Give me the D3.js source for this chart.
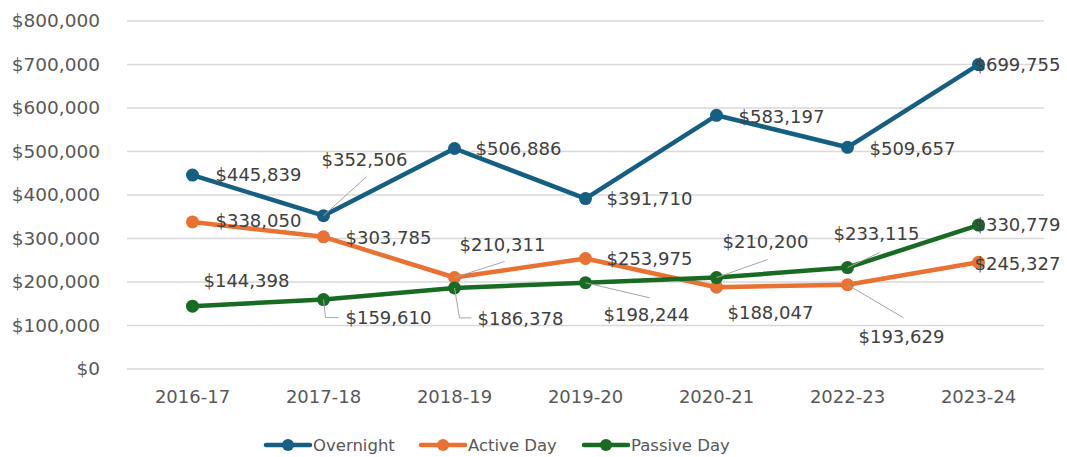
<html>
<head>
<script src="https://d3js.org/d3.v7.min.js"></script>
<style>
  body { margin: 0; background: #fff; }
  text { font-family: "DejaVu Sans", sans-serif; }
</style>
</head>
<body>
<svg id="chart" width="1067" height="457"></svg>
<script>
// data
const years = ["2016-17", "2017-18", "2018-19", "2019-20", "2020-21", "2022-23", "2023-24"];
const overnight = [445839, 352506, 506886, 391710, 583197, 509657, 699755];
const activeDay = [338050, 303785, 210311, 253975, 188047, 193629, 245327];
const passiveDay = [144398, 159610, 186378, 198244, 210200, 233115, 330779];
const yTicks = [0, 100000, 200000, 300000, 400000, 500000, 600000, 700000, 800000];

// label placement relative to each point (dx, dy to text start / middle), optional leader
const overnightLabels = [
  {dx: 23, dy: 0}, {dx: -2, dy: -56, lead: [[43, -39]]}, {dx: 21, dy: 0}, {dx: 21, dy: 0},
  {dx: 22, dy: 1}, {dx: 22, dy: 1}, {dx: -4, dy: 0}
];
const activeLabels = [
  {dx: 23, dy: -1}, {dx: 22, dy: 1}, {dx: 5, dy: -33, lead: [[50, -16]]}, {dx: 21, dy: 0},
  {dx: 11, dy: 26}, {dx: 11, dy: 52, lead: [[56, 33]]}, {dx: -4, dy: 1}
];
const passiveLabels = [
  {dx: 11, dy: -25}, {dx: 22, dy: 18, lead: [[2, 18], [15, 18]]},
  {dx: 23, dy: 31, lead: [[5, 30], [17, 30]]}, {dx: 18, dy: 32, lead: [[64, 15]]},
  {dx: 6, dy: -36, lead: [[51, -18]]}, {dx: -14, dy: -34, lead: [[32, -15]]}, {dx: -4, dy: 0}
];

const series = [
  {name: "Overnight", values: overnight, color: "#156082", labels: overnightLabels},
  {name: "Active Day", values: activeDay, color: "#E97132", labels: activeLabels},
  {name: "Passive Day", values: passiveDay, color: "#196B24", labels: passiveLabels}
];

const svg = d3.select("#chart");
const x = d3.scalePoint().domain(years).range([127, 1044]).padding(0.5);
const y = d3.scaleLinear().domain([0, 800000]).range([369, 21]);
const fmt = d3.format("$,");

// gridlines
svg.append("g").selectAll("line").data(yTicks).enter().append("line")
  .attr("x1", 127).attr("x2", 1044)
  .attr("y1", d => y(d)).attr("y2", d => y(d))
  .attr("stroke", "#d9d9d9").attr("stroke-width", 1.3);

// y axis labels
svg.append("g").selectAll("text").data(yTicks).enter().append("text")
  .attr("x", 100).attr("y", d => y(d))
  .attr("dy", "0.35em")
  .attr("text-anchor", "end")
  .attr("font-size", 18.5)
  .attr("fill", "#595959")
  .text(d => fmt(d));

// x axis labels
svg.append("g").selectAll("text").data(years).enter().append("text")
  .attr("x", d => x(d)).attr("y", 397)
  .attr("dy", "0.35em")
  .attr("text-anchor", "middle")
  .attr("font-size", 18)
  .attr("fill", "#595959")
  .text(d => d);

const line = d3.line().x((d, i) => x(years[i])).y(d => y(d));

// lines and markers
series.forEach(function(s) {
  svg.append("path")
    .datum(s.values)
    .attr("d", line)
    .attr("fill", "none")
    .attr("stroke", s.color)
    .attr("stroke-width", 4.5)
    .attr("stroke-linejoin", "round")
    .attr("stroke-linecap", "round");
  svg.append("g").selectAll("circle").data(s.values).enter().append("circle")
    .attr("cx", (d, i) => x(years[i]))
    .attr("cy", d => y(d))
    .attr("r", 6.5)
    .attr("fill", s.color);
});

// leader lines and data labels
series.forEach(function(s) {
  s.values.forEach(function(v, i) {
    const px = x(years[i]), py = y(v);
    const lab = s.labels[i];
    if (lab.lead) {
      const pts = [[px, py]].concat(lab.lead.map(p => [px + p[0], py + p[1]]));
      svg.append("polyline")
        .attr("points", pts.map(p => p.join(",")).join(" "))
        .attr("fill", "none")
        .attr("stroke", "#a6a6a6")
        .attr("stroke-width", 1);
    }
    svg.append("text")
      .attr("x", px + lab.dx)
      .attr("y", py + lab.dy)
      .attr("dy", "0.35em")
      .attr("font-size", 18)
      .attr("fill", "#404040")
      .text(fmt(v));
  });
});

// legend
const legendX = [266, 421, 584];
const legend = svg.append("g").selectAll("g").data(series).enter().append("g")
  .attr("transform", (d, i) => "translate(" + legendX[i] + ",445)");
legend.append("line")
  .attr("x1", 0).attr("x2", 44).attr("y1", 0).attr("y2", 0)
  .attr("stroke", d => d.color).attr("stroke-width", 4.5)
  .attr("stroke-linecap", "round");
legend.append("circle")
  .attr("cx", 22).attr("cy", 0).attr("r", 6)
  .attr("fill", d => d.color);
legend.append("text")
  .attr("x", 47).attr("y", 0).attr("dy", "0.35em")
  .attr("font-size", 16.5)
  .attr("fill", "#595959")
  .text(d => d.name);
</script>
</body>
</html>
